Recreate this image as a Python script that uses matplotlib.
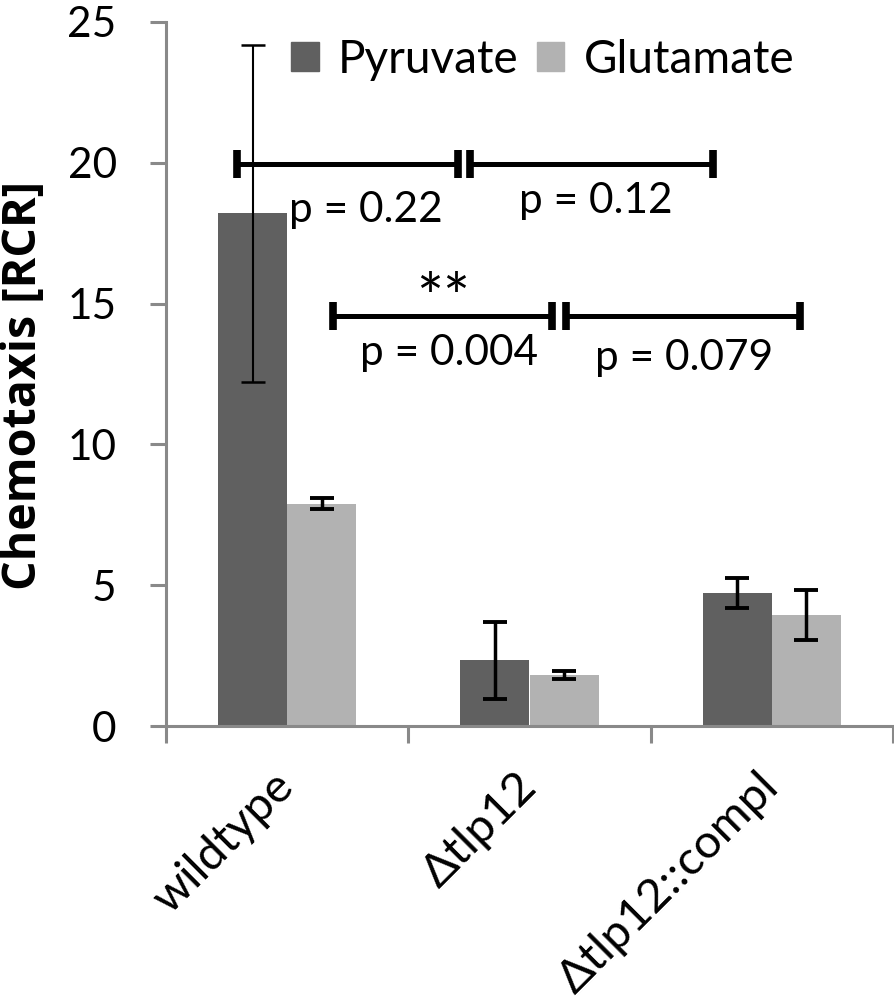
import matplotlib
matplotlib.use("Agg")
import matplotlib.pyplot as plt
import matplotlib.transforms as mtransforms
from matplotlib.patches import Patch

plt.rcParams['font.family'] = ['Lato', 'DejaVu Sans']

# ---- data ----
categories = ["wildtype", "\u0394tlp12", "\u0394tlp12::compl"]
series_names = ["Pyruvate", "Glutamate"]
pyruvate = [18.2, 2.33, 4.72]
pyruvate_err = [6.0, 1.38, 0.52]
glutamate = [7.9, 1.82, 3.94]
glutamate_err = [0.19, 0.14, 0.9]
y_ticks = [0, 5, 10, 15, 20, 25]
y_label = "Chemotaxis [RCR]"

# significance brackets: (x_start, x_end, y)
brackets = [(-0.205, 0.703, 19.95), (0.754, 1.757, 19.95),
            (0.189, 1.093, 14.56), (1.152, 2.117, 14.56)]
annotations = [(0.323, 17.90, "p = 0.22"), (1.272, 18.22, "p = 0.12"),
               (0.668, 12.82, "p = 0.004"), (1.637, 12.64, "p = 0.079")]
star_label = (0.644, 14.40, "**")

# ---- style ----
c_pyr = "#606060"
c_glu = "#b2b2b2"
axis_gray = "#898989"
fs = 30.5
bar_w = 0.285

fig = plt.figure(figsize=(8.94, 10.02), dpi=100)
ax = fig.add_axes([166/894, (1002-726)/1002, 727/894, 704/1002])

x = list(range(len(categories)))
xp = [i - bar_w/2 for i in x]
xg = [i + bar_w/2 for i in x]
ax.bar(xp, pyruvate, bar_w, color=c_pyr, zorder=2)
ax.bar(xg, glutamate, bar_w, color=c_glu, zorder=2)

err_lw_pyr = [1.5, 2.5, 2.5]
err_lw_glu = [2.5, 2.5, 2.5]
for xi, v, e, lw in zip(xp, pyruvate, pyruvate_err, err_lw_pyr):
    ax.errorbar(xi, v, yerr=e, fmt='none', ecolor='black', elinewidth=lw,
                capsize=8.3, capthick=lw + 0.3, zorder=3)
for xi, v, e, lw in zip(xg, glutamate, glutamate_err, err_lw_glu):
    ax.errorbar(xi, v, yerr=e, fmt='none', ecolor='black', elinewidth=lw,
                capsize=8.3, capthick=lw + 0.3, zorder=3)

for x0, x1, y in brackets:
    ax.plot([x0, x1], [y, y], color='black', lw=3.6, solid_capstyle='butt', zorder=4)
    for xc in (x0, x1):
        ax.plot([xc, xc], [y - 0.5, y + 0.5], color='black', lw=5.5,
                solid_capstyle='butt', zorder=4)

for xt, yt, t in annotations:
    ax.text(xt, yt, t, ha='center', va='baseline', fontsize=fs, zorder=5)
ax.text(star_label[0], star_label[1], star_label[2], ha='center', va='baseline',
        fontsize=46, zorder=5)

ax.set_xlim(-0.5, 2.5)
ax.set_ylim(0, 25)
ax.set_yticks(y_ticks)
ax.set_yticklabels([str(t) for t in y_ticks], fontsize=fs)
ax.tick_params(axis='y', length=11.5, width=2.2, color=axis_gray, pad=24)

ax.set_xticks([-0.5, 0.5, 1.5, 2.5])
ax.set_xticklabels([])
ax.tick_params(axis='x', which='major', length=12, width=2.2, color=axis_gray)
ax.set_xticks(x, minor=True)
ax.set_xticklabels(categories, minor=True, fontsize=34, rotation=45, ha='right')
ax.tick_params(axis='x', which='minor', length=0, pad=28)
shift = mtransforms.ScaledTranslation(15/100, 0, fig.dpi_scale_trans)
for lbl in ax.get_xticklabels(minor=True):
    lbl.set_transform(lbl.get_transform() + shift)

for s in ('top', 'right'):
    ax.spines[s].set_visible(False)
for s in ('left', 'bottom'):
    ax.spines[s].set_color(axis_gray)
    ax.spines[s].set_linewidth(2.2)

ax.set_ylabel(y_label, fontsize=33.5, fontweight='bold', family=['Open Sans', 'DejaVu Sans'])
ax.yaxis.set_label_coords(-0.1637, 0.4837)

handles = [Patch(color=c_pyr), Patch(color=c_glu)]
leg = ax.legend(handles, series_names, ncol=2, frameon=False, fontsize=33,
                loc='upper left', bbox_to_anchor=(291/894, 1 - 39/1002),
                bbox_transform=fig.transFigure, handlelength=0.6, handleheight=0.6,
                handletextpad=0.42, columnspacing=0.4, borderpad=0, borderaxespad=0)

fig.savefig("out.png", dpi=100)
